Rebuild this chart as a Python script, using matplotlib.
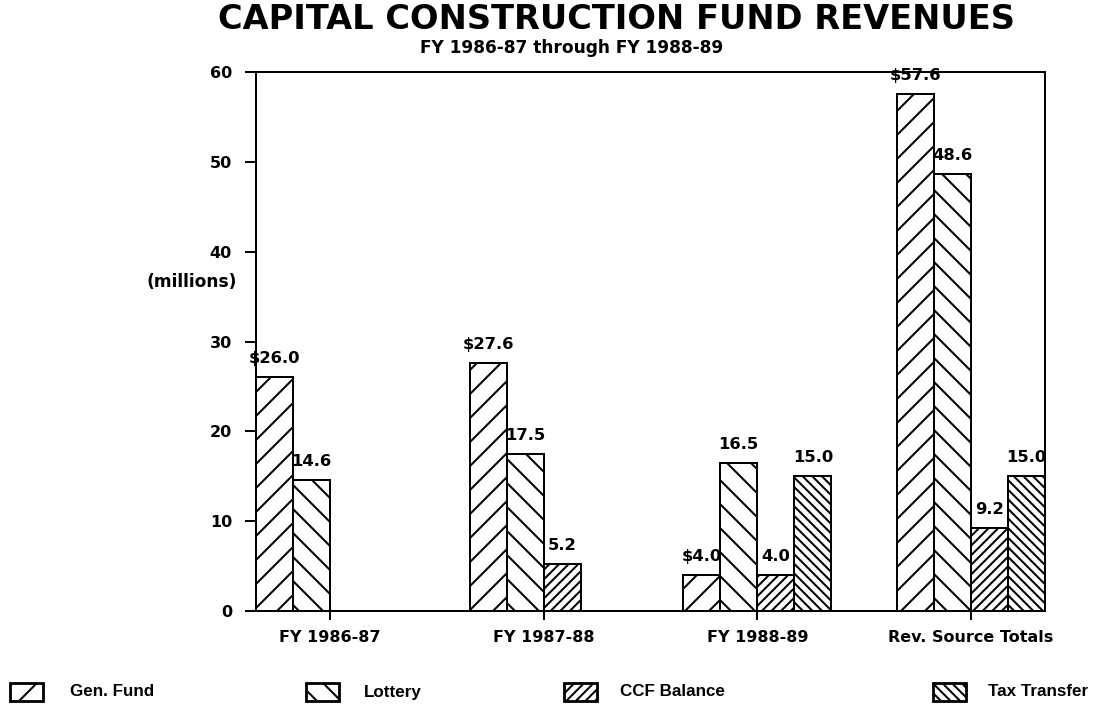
import matplotlib
matplotlib.use("Agg")
import numpy as np
import matplotlib.pyplot as plt
from matplotlib.patches import Rectangle


TITLE = "CAPITAL CONSTRUCTION FUND REVENUES"
SUBTITLE = "FY 1986-87 through FY 1988-89"
Y_LABEL = "(millions)"

groups = ["FY 1986-87", "FY 1987-88", "FY 1988-89", "Rev. Source Totals"]
series = ["Gen. Fund", "Lottery", "CCF Balance", "Tax Transfer"]

gen_fund = [26.0, 27.6, 4.0, 57.6]
lottery = [14.6, 17.5, 16.5, 48.6]
ccf_balance = [0.0, 5.2, 4.0, 9.2]
tax_transfer = [0.0, 0.0, 15.0, 15.0]

y_ticks = [0, 10, 20, 30, 40, 50, 60]

hatches = ["//", "\\\\", "/////", "\\\\\\\\\\"]
prefixes = ["\\$", "", "", ""]

W, H, DPI = 1096, 708, 144

plt.rcParams["hatch.linewidth"] = 1.0
plt.rcParams["hatch.color"] = "black"

BOLD = {"family": "DejaVu Sans", "fontweight": "bold"}

fig = plt.figure(figsize=(W / DPI, H / DPI), dpi=DPI)
ax = fig.add_axes([256 / W, 1 - 611 / H, (1045 - 256) / W, (611 - 72) / H])

values = [gen_fund, lottery, ccf_balance, tax_transfer]
bar_w = 0.1735
x = np.arange(len(groups))

for k, vals in enumerate(values):
    bars = ax.bar(x + k * bar_w, vals, width=bar_w, align="edge",
                  facecolor="white", edgecolor="black", linewidth=1.0,
                  hatch=hatches[k])
    for b, v in zip(bars, vals):
        if v == 0:
            continue
        ax.annotate(f"{prefixes[k]}{v:.1f}",
                    xy=(b.get_x() + b.get_width() / 2, v),
                    xytext=(0, 7), textcoords="offset points",
                    ha="center", va="baseline", fontsize=8.2, **BOLD)

ax.set_xlim(0, len(groups) - 1 + 4 * bar_w)
ax.set_ylim(0, 60)
ax.set_yticks(y_ticks)
ax.set_xticks(x + 2 * bar_w)
ax.set_xticklabels(groups)

for lab in ax.get_xticklabels() + ax.get_yticklabels():
    lab.set_fontfamily("DejaVu Sans")
    lab.set_fontweight("bold")
    lab.set_fontsize(8)

ax.tick_params(axis="y", direction="out", length=5.5, width=1.0, pad=6.5)
ax.tick_params(axis="x", direction="out", length=4.5, width=1.0, pad=5)
for sp in ax.spines.values():
    sp.set_linewidth(1.0)

fig.text(617 / W, 1 - 29 / H, TITLE, ha="center", va="baseline", fontsize=16.8, **BOLD)
fig.text(572 / W, 1 - 53 / H, SUBTITLE, ha="center", va="baseline", fontsize=8.5, **BOLD)
fig.text(192 / W, 1 - 282 / H, Y_LABEL, ha="center", va="center", fontsize=8.5, **BOLD)

# legend along the bottom, placed by hand like the original
patch_left = [10, 306, 564, 933]
text_left = [70, 364, 620, 988]
for k, name in enumerate(series):
    fig.add_artist(Rectangle((patch_left[k] / W, 1 - 701 / H), 33 / W, 18 / H,
                             transform=fig.transFigure, facecolor="white",
                             edgecolor="black", linewidth=1.4, hatch=hatches[k]))
    fig.text(text_left[k] / W, 1 - 692 / H, name, ha="left", va="center",
             fontsize=8.5, family="Liberation Sans", fontweight="bold")

fig.savefig("out.png", dpi=DPI)
